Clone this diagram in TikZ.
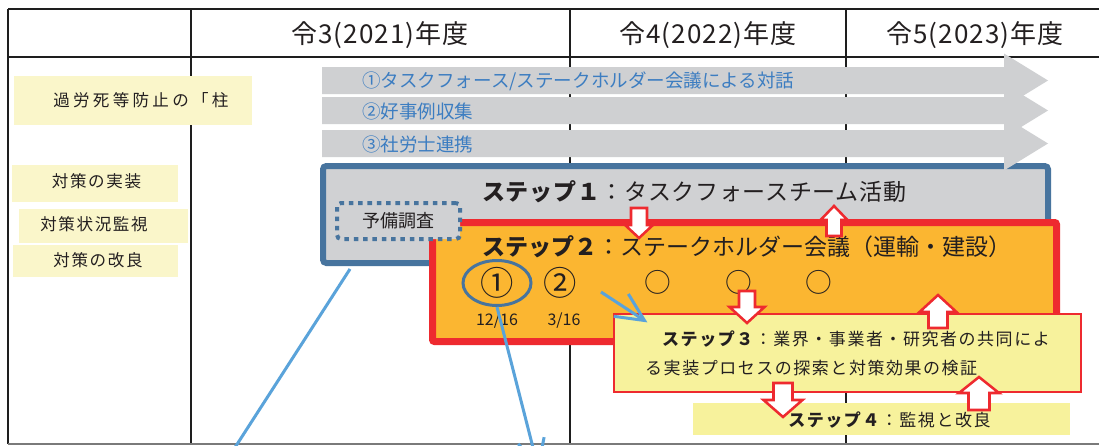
\documentclass[tikz,border=0pt]{standalone}
\usepackage{fontspec}
\setmainfont{Noto Sans CJK JP}
\usetikzlibrary{arrows.meta,shapes.geometric,calc}
\definecolor{TLine}{HTML}{1E1E1E}
\definecolor{TGray}{HTML}{7A7A7A}
\definecolor{LblYellow}{HTML}{FAF6CA}
\definecolor{StepYellow}{HTML}{F7F29C}
\definecolor{BandGray}{HTML}{CFD0D2}
\definecolor{BandText}{HTML}{3C7DC1}
\definecolor{SteelBlue}{HTML}{47749E}
\definecolor{BoxGray}{HTML}{D0D1D3}
\definecolor{StepOrange}{HTML}{FBB631}
\definecolor{StepRed}{HTML}{EE2A2F}
\definecolor{LinkBlue}{HTML}{5AA3DA}
\definecolor{InkDark}{HTML}{231F20}
% hollow block arrows: x, start y, tip y, shaft half width, head half width, head length
\newcommand{\arrdown}[6]{\draw[hollowarr] (#1-#4,#2) -- (#1+#4,#2) -- (#1+#4,#3-#6) -- (#1+#5,#3-#6) -- (#1,#3) -- (#1-#5,#3-#6) -- (#1-#4,#3-#6) -- cycle;}
\newcommand{\arrup}[6]{\draw[hollowarr] (#1-#4,#2) -- (#1+#4,#2) -- (#1+#4,#3+#6) -- (#1+#5,#3+#6) -- (#1,#3) -- (#1-#5,#3+#6) -- (#1-#4,#3+#6) -- cycle;}

\begin{document}
\begin{tikzpicture}[x=0.75pt,y=-0.75pt,>=Latex,
  grid/.style={draw=TLine,line width=1.1pt},
  hdr/.style={font=\fontsize{19.5pt}{22pt}\selectfont\addfontfeatures{LetterSpace=4},text=InkDark,inner sep=0pt},
  lblbox/.style={fill=LblYellow,inner sep=0pt},
  lbltext/.style={font=\fontsize{12.4pt}{14pt}\selectfont\addfontfeatures{LetterSpace=10},text=InkDark,inner sep=0pt},
  bandgray/.style={fill=BandGray},
  bandtext/.style={font=\fontsize{13.9pt}{16pt}\selectfont,text=BandText,inner sep=0pt},
  step1box/.style={draw=SteelBlue,fill=BoxGray,line width=4.5pt,rounded corners=2.5pt,minimum width=543.75pt,minimum height=72.75pt,inner sep=0pt},
  step2box/.style={draw=StepRed,fill=StepOrange,line width=5.25pt,rounded corners=1.5pt,minimum width=468pt,minimum height=89.25pt,inner sep=0pt},
  prebox/.style={draw=SteelBlue,fill=BoxGray,line width=3pt,dash pattern=on 3.4pt off 3.6pt,rounded corners=3pt,minimum width=92.25pt,minimum height=27pt,inner sep=0pt,font=\fontsize{13.5pt}{15pt}\selectfont,text=InkDark},
  titletext/.style={font=\fontsize{17.25pt}{20pt}\selectfont,text=InkDark,inner sep=0pt},
  numtext/.style={font=\fontsize{20pt}{22pt}\selectfont,text=InkDark,inner sep=0pt},
  bignum/.style={font=\fontsize{25pt}{27pt}\selectfont,text=InkDark,inner sep=0pt},
  ring/.style={ellipse,draw=SteelBlue,line width=2.25pt,minimum width=51pt,minimum height=33.75pt},
  datetext/.style={font=\fontsize{12pt}{14pt}\selectfont,text=InkDark,inner sep=0pt},
  step3box/.style={draw=StepRed,line width=0.9pt,fill=StepYellow,minimum width=350.25pt,minimum height=58.5pt,inner xsep=16.5pt,inner ysep=0pt,align=left,font=\fontsize{12.75pt}{21.75pt}\selectfont\addfontfeatures{LetterSpace=9},text=InkDark},
  step4box/.style={fill=StepYellow,minimum width=282.75pt,minimum height=24pt,inner sep=0pt},
  steptext/.style={font=\fontsize{12.75pt}{15pt}\selectfont\addfontfeatures{LetterSpace=9},text=InkDark,inner sep=0pt},
  hollowarr/.style={draw=StepRed,fill=white,line width=1.9pt,line join=miter},
  link/.style={draw=LinkBlue,line width=2.25pt},
  linktip/.style={-{Straight Barb[length=21pt,width=20pt]}}]
\useasboundingbox (0,0) rectangle (1099,446);
\clip (0,0) rectangle (1099,446);
\fill[white] (0,0) rectangle (1099,446);
% table
\draw[grid] (8,9) -- (1099,9);
\draw[grid] (8,57) -- (1099,57);
\draw[grid] (8,9) -- (8,444);
\foreach \cx in {191,570,846} \draw[grid] (\cx,9) -- (\cx,444);
\draw[draw=TGray,line width=1.1pt] (8,444) -- (1099,444);
\node[hdr] (h1) at (380,35) {令3(2021)年度};
\node[hdr] (h2) at (708,35) {令4(2022)年度};
\node[hdr] (h3) at (975,35) {令5(2023)年度};
% left column
\node[lblbox,minimum width=178.5pt,minimum height=36.75pt] (k0) at (133,100.5) {};
\node[lbltext,anchor=west,font=\fontsize{12.4pt}{14pt}\selectfont\addfontfeatures{LetterSpace=20}] (k0t) at (53,100) {過労死等防止の「柱};
\node[lblbox,minimum width=124.5pt,minimum height=27.75pt] (k1) at (95,183.5) {};
\node[lbltext] (k1t) at (96.5,181) {対策の実装};
\node[lblbox,minimum width=126.75pt,minimum height=25.5pt] (k2) at (103.5,226) {};
\node[lbltext] (k2t) at (94,224) {対策状況監視};
\node[lblbox,minimum width=123.75pt,minimum height=24pt] (k3) at (95.5,261) {};
\node[lbltext] (k3t) at (98,260) {対策の改良};
% steps 1 and 2
\node[step1box] (step1) at (685.5,214.5) {};
\node[titletext,anchor=west,font=\fontsize{17.25pt}{20pt}\selectfont\addfontfeatures{LetterSpace=3}] (step1t) at (482,192) {\textbf{ステップ１}：タスクフォースチーム活動};
\node[step2box] (step2) at (744.5,282) {};
\node[titletext,anchor=west] (step2t) at (482,247) {\textbf{ステップ２}：ステークホルダー会議（運輸・建設）};
\node[prebox] (pre) at (398.5,221) {予備調査};
% long-term bands
\foreach \yt/\txt [count=\i] in {67/{①タスクフォース/ステークホルダー会議による対話},97/{②好事例収集},130/{③社労士連携}}{
  \fill[bandgray] (322,\yt) -- (1004,\yt) -- (1004,\yt-13.5) -- (1048,\yt+13.5) -- (1004,\yt+40.5) -- (1004,\yt+27) -- (322,\yt+27) -- cycle;
  \node[bandtext,anchor=west] (band\i) at (362,\yt+14) {\txt};
}
% meetings
\node[bignum,ring] (c1) at (497,283) {①};
\node[bignum] (c2) at (560,283) {②};
\foreach \ox [count=\i] in {658,739,819} \node[numtext] (o\i) at (\ox,282) {○};
\node[datetext] (d1) at (497,321) {12/16};
\node[datetext] (d2) at (564,321) {3/16};
% steps 3 and 4
\node[step3box] (step3) at (847.5,353) {\hspace*{12.75pt}\textbf{ステップ３}：業界・事業者・研究者の共同によ\\る実装プロセスの探索と対策効果の検証};
\node[step4box] (step4) at (881.5,419) {};
\node[steptext,anchor=west] (step4t) at (788,420) {\textbf{ステップ４}：監視と改良};
% feedback arrows
\arrdown{639}{208}{238}{8}{14}{13}
\arrup{834}{236}{206}{7.5}{13.5}{14}
\arrdown{747}{291}{323}{8}{17.5}{16}
\arrup{938}{328}{295}{9.5}{18.5}{17}
\arrdown{783}{383}{417}{9.5}{19.5}{17}
\arrup{979}{410}{377}{10.5}{20}{16}
% links
\coordinate (l1end) at (225,463);
\coordinate (l2end) at (539,471);
\coordinate (l3start) at (601,292);
\draw[link] ($(step1.south west)+(30,3)$) -- (l1end);
\draw[link,linktip] (c1.south) -- (l2end);
\draw[link,linktip] (l3start) -- ($(step3.north west)+(34,9)$);
\end{tikzpicture}
\end{document}
